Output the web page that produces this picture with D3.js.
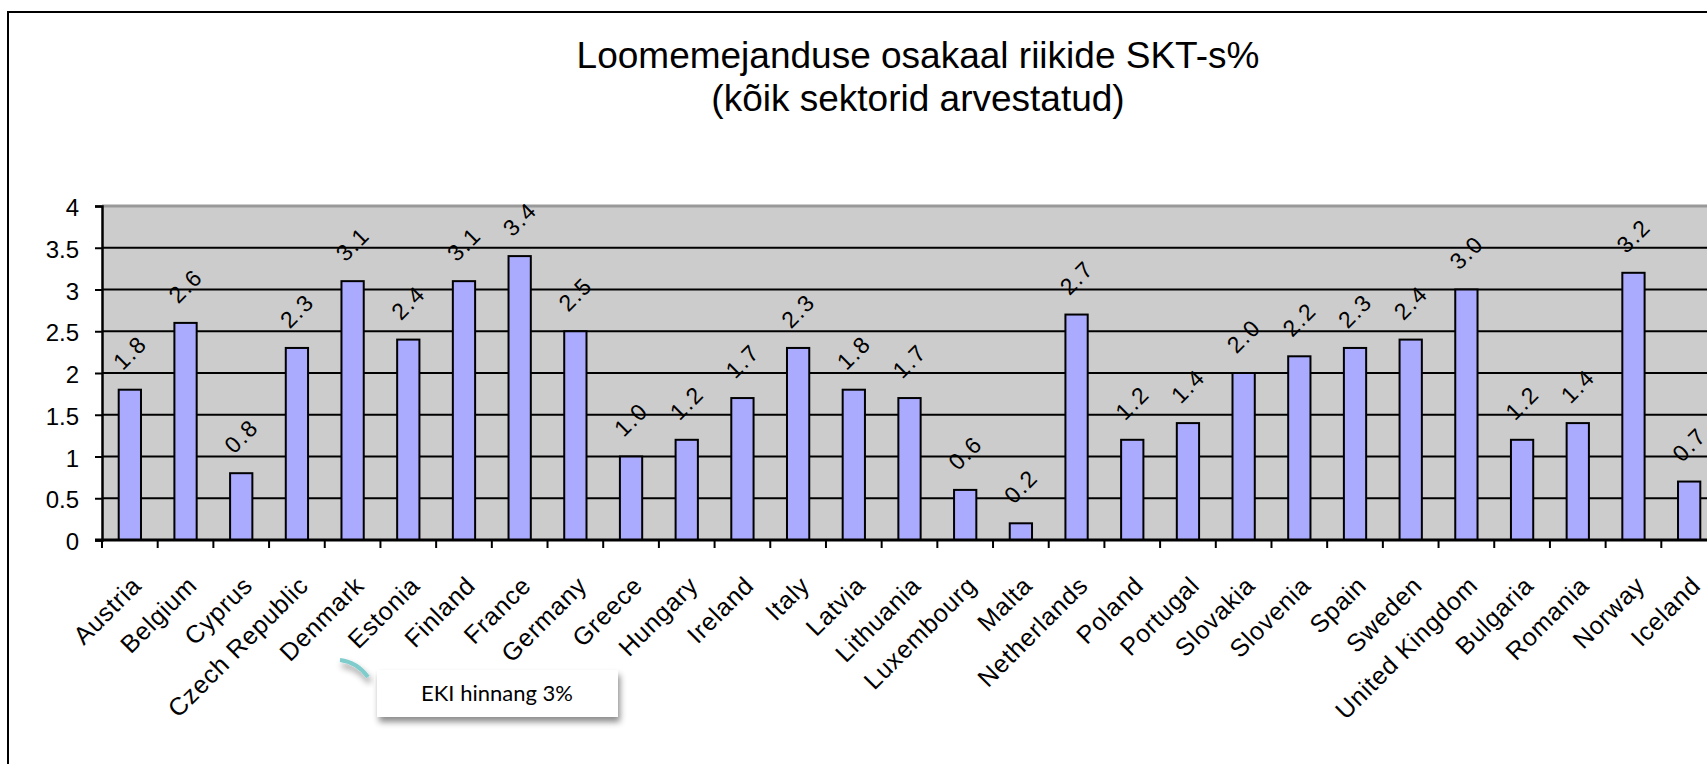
<!DOCTYPE html>
<html>
<head>
<meta charset="utf-8">
<title></title>
<style>
  body { margin: 0; background: #fff; }
  svg { display: block; }
</style>
</head>
<body>
<script src="https://d3js.org/d3.v7.min.js"></script>
<script>

// chart data
var countries = ["Austria", "Belgium", "Cyprus", "Czech Republic", "Denmark", "Estonia",
    "Finland", "France", "Germany", "Greece", "Hungary", "Ireland", "Italy", "Latvia",
    "Lithuania", "Luxembourg", "Malta", "Netherlands", "Poland", "Portugal", "Slovakia",
    "Slovenia", "Spain", "Sweden", "United Kingdom", "Bulgaria", "Romania", "Norway", "Iceland"];
var shares = [1.8, 2.6, 0.8, 2.3, 3.1, 2.4, 3.1, 3.4, 2.5, 1.0, 1.2, 1.7, 2.3, 1.8,
    1.7, 0.6, 0.2, 2.7, 1.2, 1.4, 2.0, 2.2, 2.3, 2.4, 3.0, 1.2, 1.4, 3.2, 0.7];
var yTicks = [0, 0.5, 1, 1.5, 2, 2.5, 3, 3.5, 4];
var titleLines = ["Loomemejanduse osakaal riikide SKT-s%", "(kõik sektorid arvestatud)"];
var calloutText = "EKI hinnang 3%";

var data = countries.map(function(c, i) { return { name: c, value: shares[i] }; });

var W = 1707, H = 764;
var plot = { left: 102, right: 1717, top: 206, bottom: 540 };

var svg = d3.select("body").append("svg")
    .attr("width", W)
    .attr("height", H);

var defs = svg.append("defs");
var shadow = defs.append("filter").attr("id", "shadow")
    .attr("x", "-20%").attr("y", "-40%").attr("width", "140%").attr("height", "200%");
shadow.append("feDropShadow")
    .attr("dx", 2).attr("dy", 5).attr("stdDeviation", 3)
    .attr("flood-color", "#000").attr("flood-opacity", 0.45);

// outer chart frame (runs past the right and bottom edges)
svg.append("rect")
    .attr("x", 8).attr("y", 12)
    .attr("width", W + 50).attr("height", H + 50)
    .attr("fill", "#fff")
    .attr("stroke", "#000")
    .attr("stroke-width", 2);

// title
svg.append("text")
    .attr("x", 918).attr("y", 68)
    .attr("text-anchor", "middle")
    .style("font-family", "'Liberation Sans', Arial, sans-serif")
    .style("font-size", "37px")
    .selectAll("tspan")
    .data(titleLines)
    .enter().append("tspan")
    .attr("x", 918)
    .attr("dy", function(d, i) { return i === 0 ? 0 : 43; })
    .text(function(d) { return d; });

// scales
var x = d3.scaleBand()
    .domain(countries)
    .range([plot.left, plot.right])
    .paddingInner(0.6)
    .paddingOuter(0.3);

var y = d3.scaleLinear()
    .domain([0, 4])
    .range([plot.bottom, plot.top]);

// plot background
svg.append("rect")
    .attr("x", plot.left).attr("y", y(4))
    .attr("width", plot.right - plot.left)
    .attr("height", y(0) - y(4))
    .attr("fill", "#cccccc");

// gridlines
svg.append("g").selectAll("line")
    .data(yTicks.filter(function(t) { return t > 0; }))
    .enter().append("line")
    .attr("x1", plot.left).attr("x2", plot.right)
    .attr("y1", function(d) { return y(d); })
    .attr("y2", function(d) { return y(d); })
    .attr("stroke", function(d) { return d === 4 ? "#999" : "#000"; })
    .attr("stroke-width", function(d) { return d === 4 ? 3 : 2; });

// bars
svg.append("g").selectAll("rect")
    .data(data)
    .enter().append("rect")
    .attr("x", function(d) { return x(d.name); })
    .attr("y", function(d) { return y(d.value); })
    .attr("width", x.bandwidth())
    .attr("height", function(d) { return y(0) - y(d.value); })
    .attr("fill", "#aaaaff")
    .attr("stroke", "#000")
    .attr("stroke-width", 2);

// value labels
var fmt = d3.format(".1f");
svg.append("g").selectAll("text")
    .data(data)
    .enter().append("text")
    .attr("transform", function(d) {
        var cx = x(d.name) + x.bandwidth() / 2, cy = y(d.value) - 37;
        return "translate(" + cx + "," + cy + ") rotate(-45)";
    })
    .attr("text-anchor", "middle")
    .attr("dy", "0.35em")
    .style("font-family", "'Liberation Sans', Arial, sans-serif")
    .style("font-size", "23px")
    .style("letter-spacing", "1.5px")
    .text(function(d) { return fmt(d.value); });

// y axis
var yAxis = d3.axisLeft(y)
    .tickValues(yTicks)
    .tickSize(7)
    .tickPadding(16)
    .tickFormat(function(d) { return String(d); });

var gY = svg.append("g")
    .attr("transform", "translate(" + plot.left + ",0)")
    .call(yAxis);
gY.select(".domain").attr("stroke-width", 2.5);
gY.selectAll(".tick line").attr("stroke-width", 2);
gY.selectAll(".tick text")
    .attr("dy", "0.4em")
    .style("font-family", "'Liberation Sans', Arial, sans-serif")
    .style("font-size", "24px")
    .attr("fill", "#000");

// x axis line and category boundary ticks
svg.append("line")
    .attr("x1", plot.left - 7).attr("x2", plot.right)
    .attr("y1", y(0)).attr("y2", y(0))
    .attr("stroke", "#000").attr("stroke-width", 3);

var gap = (x.step() - x.bandwidth()) / 2;
svg.append("g").selectAll("line")
    .data(countries)
    .enter().append("line")
    .attr("x1", function(d) { return x(d) - gap; })
    .attr("x2", function(d) { return x(d) - gap; })
    .attr("y1", y(0)).attr("y2", y(0) + 8)
    .attr("stroke", "#000").attr("stroke-width", 2);

// category labels
svg.append("g").selectAll("text")
    .data(countries)
    .enter().append("text")
    .attr("transform", function(d) {
        var cx = x(d) + x.bandwidth() / 2 + 13;
        return "translate(" + cx + "," + (y(0) + 47) + ") rotate(-45)";
    })
    .attr("text-anchor", "end")
    .style("font-family", "'Liberation Sans', Arial, sans-serif")
    .style("font-size", "25px")
    .style("letter-spacing", "0.8px")
    .text(function(d) { return d; });

// callout
var callout = svg.append("g");
callout.append("path")
    .attr("d", "M340,660 Q357,662 368,677")
    .attr("fill", "none")
    .attr("stroke", "#7fcccc")
    .attr("stroke-width", 4)
    .attr("filter", "url(#shadow)");
callout.append("rect")
    .attr("x", 377).attr("y", 670)
    .attr("width", 241).attr("height", 47)
    .attr("fill", "#fff")
    .attr("filter", "url(#shadow)");
callout.append("text")
    .attr("x", 497).attr("y", 701)
    .attr("text-anchor", "middle")
    .style("font-family", "Lato, 'Open Sans', sans-serif")
    .style("font-size", "22px")
    .text(calloutText);

</script>
</body>
</html>
